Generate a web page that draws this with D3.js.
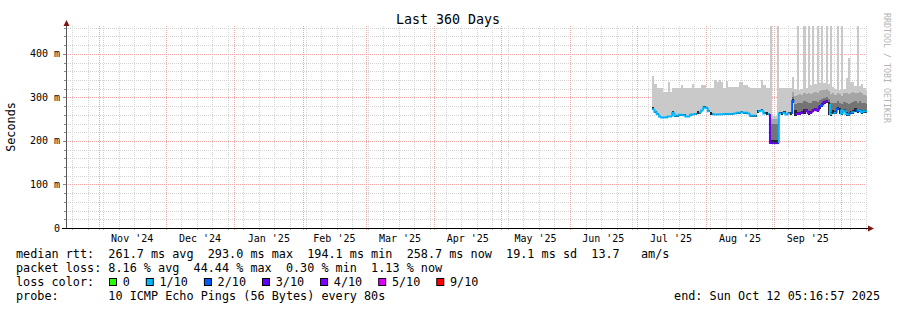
<!DOCTYPE html>
<html>
<head>
<meta charset="utf-8">
<script src="https://cdn.jsdelivr.net/npm/d3@7"></script>
<style>
  body { margin: 0; background: #fff; }
  svg text { font-family: "DejaVu Sans Mono", monospace; fill: #000; white-space: pre; }
</style>
</head>
<body>
<svg id="chart" width="897" height="310"></svg>
<script>
// ---- data ----
const endTime = new Date(Date.UTC(2025, 9, 12, 5, 16, 57));
const firstDay = new Date(Date.UTC(2025, 6, 8));

// daily median rtt (ms)
const median = [
  273, 267, 262, 256, 254, 254, 254, 256, 256, 265,
  258, 258, 260, 260, 259, 256, 256, 260, 261, 262,
  265, 265, 270, 277, 276, 268, 262, 262, 261, 261,
  261, 261, 262, 262, 262, 262, 262, 263, 265, 265,
  266, 265, 265, 263, 258, 258, 258, 266, 268, 270,
  263, 262, 262, 195, 195, 195, 195, 263, 262, 265,
  261, 263, 262, 292, 264, 262, 263, 265, 268, 270,
  264, 265, 270, 272, 270, 278, 282, 288, 291, 285,
  262, 266, 265, 274, 272, 263, 270, 262, 261, 265,
  266, 272, 268, 270, 266, 268, 268
];
// lost pings out of 10 (null: no median line drawn)
const loss = [
  1, 1, 1, 1, 1, 1, 1, 1, 1, 1,
  1, 1, 1, 1, 1, 1, 1, 1, 1, 1,
  null, 1, 1, 1, 1, 1, null, 1, 1, 1,
  1, 1, 1, 1, 1, 1, 1, 1, 1, 1,
  1, 1, 1, 1, 1, 1, 1, null, 1, 1,
  1, null, 1, 3, 3, 3, 3, 1, null, 1,
  1, 1, null, 2, null, 4, 4, 3, null, 4,
  4, 3, 4, 4, 4, 3, 2, 3, 4, null,
  1, null, 1, 2, null, 1, 1, 1, 1, 2,
  1, null, 2, 1, 1, 1, 1
];
// smoke: lowest ping
const smokeLow = [
  271, 265, 260, 254, 252, 252, 252, 254, 254, 263,
  256, 256, 258, 258, 257, 254, 254, 258, 259, 260,
  263, 263, 268, 275, 274, 266, 260, 260, 259, 259,
  259, 259, 260, 260, 260, 260, 260, 261, 263, 263,
  264, 263, 263, 261, 256, 256, 256, 264, 266, 268,
  261, 260, 260, 194, 194, 194, 194, 261, 260, 263,
  259, 261, 260, 288, 258, 259, 260, 262, 262, 266,
  260, 261, 266, 268, 266, 274, 278, 284, 287, 260,
  258, 262, 261, 270, 262, 259, 266, 258, 257, 261,
  262, 266, 264, 266, 262, 264, 264
];
// smoke: top of the near-black band around the median
const smokeDark = [
  277, 269, 264, 258, 256, 256, 256, 258, 258, 269,
  260, 260, 262, 262, 261, 258, 258, 262, 263, 264,
  269, 267, 272, 281, 278, 270, 266, 264, 263, 263,
  263, 263, 264, 264, 264, 264, 264, 265, 267, 267,
  268, 267, 267, 265, 260, 260, 260, 270, 272, 274,
  267, 266, 264, 203, 203, 203, 203, 267, 266, 269,
  263, 267, 266, 296, 270, 266, 267, 269, 274, 274,
  268, 269, 274, 276, 274, 282, 286, 292, 295, 290,
  266, 272, 269, 278, 276, 267, 274, 266, 265, 269,
  270, 276, 272, 274, 270, 272, 271
];
// smoke: top of the dark grey band
const smokeMid = [
  null, null, null, null, null, null, null, null, null, null,
  null, null, null, null, null, null, null, null, null, null,
  null, null, null, null, null, null, null, null, null, null,
  null, null, null, null, null, null, null, null, null, null,
  null, null, null, null, null, null, null, null, null, null,
  null, null, null, 238, 238, 238, 238, null, null, null,
  null, null, null, 300, 284, 286, 288, 286, 291, 290,
  288, 286, 291, 292, 290, 294, 296, 298, 301, 296,
  286, 288, 286, 292, 288, 284, 290, 288, 284, 288,
  290, 292, 288, 291, 288, 286, 284
];
// smoke: top of the medium grey band
const smokeGrey = [
  null, null, null, null, null, null, null, null, null, null,
  null, null, null, null, null, null, null, null, null, null,
  null, null, null, null, null, null, null, null, null, null,
  null, null, null, null, null, null, null, null, null, null,
  null, null, null, null, null, null, null, null, null, null,
  null, null, null, 251, 251, 251, 251, null, null, null,
  null, null, null, 312, 304, 305, 307, 305, 309, 307,
  309, 307, 311, 313, 311, 315, 317, 317, 319, 315,
  307, 309, 305, 311, 307, 304, 309, 311, 307, 311,
  313, 311, 309, 313, 309, 305, 303
];
// smoke: highest ping (spikes run off the top)
const smokeHigh = [
  349, 331, 322, 322, 322, 313, 313, 335, 313, 322,
  322, 322, 322, 329, 322, 322, 322, 322, 331, 322,
  322, 322, 329, 329, 322, 322, 322, 322, 340, 336,
  340, 335, 322, 338, 324, 324, 324, 324, 324, 336,
  336, 329, 329, 324, 322, 322, 322, 322, 322, 340,
  329, 322, 322, 500, 258, 258, 500, 322, 322, 322,
  322, 322, 322, 347, 320, 500, 318, 320, 500, 322,
  500, 328, 500, 330, 500, 333, 500, 333, 500, 330,
  500, 325, 320, 500, 318, 500, 320, 345, 391, 336,
  336, 327, 500, 327, 330, 322, 318
];

const yMajor = [0, 100, 200, 300, 400];
const yLabels = ['0', '100 m', '200 m', '300 m', '400 m'];
const lossLevels = [0, 1, 2, 3, 4, 5, 9];
const lossNames = ['0', '1/10', '2/10', '3/10', '4/10', '5/10', '9/10'];
const lossHex = ['#26ff00', '#00b8ff', '#0059ff', '#5e00ff', '#7e00ff', '#dd00ff', '#ff0000'];
const statLines = [
  'median rtt:  261.7 ms avg  293.0 ms max  194.1 ms min  258.7 ms now  19.1 ms sd  13.7   am/s',
  'packet loss: 8.16 % avg  44.44 % max  0.30 % min  1.13 % now',
  'loss color:',
  'probe:       10 ICMP Echo Pings (56 Bytes) every 80s'
];

// ---- chart ----
const svg = d3.select('#chart');
const plot = { left: 66, right: 866, top: 26, bottom: 228 };
const startTime = d3.utcDay.offset(endTime, -360);

const x = d3.scaleUtc().domain([startTime, endTime]).range([plot.left, plot.right]);
const y = d3.scaleLinear().domain([0, 464]).range([plot.bottom, plot.top]);
const lossColor = d3.scaleOrdinal().domain(lossLevels).range(lossHex);
const px = v => Math.round(v) + 0.5;

svg.append('rect').attr('width', 897).attr('height', 310).attr('fill', '#fff');

// grid
const grid = svg.append('g').attr('class', 'grid').attr('stroke-dasharray', '1,1')
  .attr('shape-rendering', 'crispEdges');
const yMinor = d3.range(20, 461, 20).filter(v => v % 100 !== 0);
const weeks = d3.utcSunday.range(startTime, endTime);
const months = d3.utcMonth.range(startTime, endTime);

grid.selectAll('line.hmin').data(yMinor).join('line').attr('class', 'hmin')
  .attr('x1', plot.left).attr('x2', plot.right)
  .attr('y1', d => px(y(d))).attr('y2', d => px(y(d)))
  .attr('stroke', '#d2d2d2');
grid.selectAll('line.vmin').data(weeks).join('line').attr('class', 'vmin')
  .attr('x1', d => px(x(d))).attr('x2', d => px(x(d)))
  .attr('y1', plot.top).attr('y2', plot.bottom)
  .attr('stroke', '#d2d2d2');
grid.selectAll('line.hmaj').data(yMajor.slice(1)).join('line').attr('class', 'hmaj')
  .attr('x1', plot.left).attr('x2', plot.right)
  .attr('y1', d => px(y(d))).attr('y2', d => px(y(d)))
  .attr('stroke', '#f1a6a6');
grid.selectAll('line.vmaj').data(months).join('line').attr('class', 'vmaj')
  .attr('x1', d => px(x(d))).attr('x2', d => px(x(d)))
  .attr('y1', plot.top).attr('y2', plot.bottom)
  .attr('stroke', '#f1a6a6');

// small tick marks outside the frame
const ticks = svg.append('g').attr('stroke', '#888').attr('shape-rendering', 'crispEdges');
ticks.selectAll('line.ty').data(yMinor.concat(yMajor.slice(1))).join('line')
  .attr('x1', d => d % 100 ? plot.left - 2 : plot.left - 3).attr('x2', plot.left)
  .attr('y1', d => px(y(d))).attr('y2', d => px(y(d)));
ticks.selectAll('line.tx').data(weeks.concat(months)).join('line')
  .attr('x1', d => px(x(d))).attr('x2', d => px(x(d)))
  .attr('y1', plot.bottom).attr('y2', plot.bottom + 2)
  .attr('stroke', d => months.includes(d) ? '#f1a6a6' : '#aaa');

// data
svg.append('clipPath').attr('id', 'clip').append('rect')
  .attr('x', plot.left).attr('y', plot.top)
  .attr('width', plot.right - plot.left + 1).attr('height', plot.bottom - plot.top);

const days = median.map((m, i) => {
  const t0 = d3.utcDay.offset(firstDay, i);
  const t1 = d3.utcDay.offset(firstDay, i + 1);
  const dk = smokeDark[i];
  const md = smokeMid[i] ?? dk;
  const gr = smokeGrey[i] ?? md;
  return {
    i, t0, t1, median: m, loss: loss[i],
    bands: [
      { from: smokeLow[i], to: dk, color: '#262626' },
      { from: dk, to: md, color: '#747474' },
      { from: md, to: gr, color: '#a5a5a5' },
      { from: gr, to: smokeHigh[i], color: '#c9c9c9' }
    ]
  };
});

const data = svg.append('g').attr('clip-path', 'url(#clip)');
const day = data.selectAll('g.day').data(days).join('g').attr('class', 'day');
day.selectAll('rect').data(d => d.bands.map(b => ({ ...b, t0: d.t0, t1: d.t1 })))
  .join('rect')
  .attr('shape-rendering', 'crispEdges')
  .attr('x', b => x(b.t0))
  .attr('width', b => x(b.t1) - x(b.t0))
  .attr('y', b => y(b.to))
  .attr('height', b => Math.max(0, y(b.from) - y(b.to)))
  .attr('fill', b => b.color);

data.selectAll('path.median').data(days.filter(d => d.loss != null)).join('path')
  .attr('class', 'median')
  .attr('fill', 'none')
  .attr('stroke-width', 2)
  .attr('stroke', d => lossColor(d.loss))
  .attr('d', d => {
    const prev = d.i > 0 ? median[d.i - 1] : d.median;
    return `M${x(d.t0)},${y(prev)}V${y(d.median)}H${x(d.t1)}`;
  });

// axes
svg.append('line').attr('x1', px(plot.left)).attr('x2', px(plot.left))
  .attr('y1', plot.bottom).attr('y2', plot.top - 3).attr('stroke', '#555');
svg.append('line').attr('x1', plot.left - 4).attr('x2', plot.right + 2)
  .attr('y1', px(plot.bottom)).attr('y2', px(plot.bottom)).attr('stroke', '#000');
svg.append('path').attr('fill', '#7f1414')
  .attr('d', `M${plot.left - 2.5},${plot.top}L${plot.left + 3.5},${plot.top}L${plot.left + 0.5},${plot.top - 6}Z`);
svg.append('path').attr('fill', '#7f1414')
  .attr('d', `M${plot.right + 2},${plot.bottom - 2.5}L${plot.right + 2},${plot.bottom + 3.5}L${plot.right + 8},${plot.bottom + 0.5}Z`);

// y labels
svg.selectAll('text.ylab').data(yMajor).join('text').attr('class', 'ylab')
  .attr('x', plot.left - 6).attr('y', d => y(d) + 3.5)
  .attr('text-anchor', 'end').attr('font-size', '10px')
  .text((d, i) => yLabels[i]);

// x labels at mid-month
const monthFmt = d3.utcFormat("%b '%y");
const labelMonths = d3.utcMonth.range(d3.utcMonth.floor(startTime), endTime)
  .map(m => ({ m, cx: (x(m) + x(d3.utcMonth.offset(m, 1))) / 2 }))
  .filter(d => d.cx > plot.left + 10 && d.cx < plot.right - 10);
svg.selectAll('text.xlab').data(labelMonths).join('text').attr('class', 'xlab')
  .attr('x', d => d.cx).attr('y', 241.5)
  .attr('text-anchor', 'middle').attr('font-size', '10px')
  .text(d => monthFmt(d.m));

// titles
svg.append('text').attr('x', 448).attr('y', 24).attr('text-anchor', 'middle')
  .attr('font-size', '13.3px').text('Last 360 Days');
svg.append('text').attr('transform', 'translate(14.5,127) rotate(-90)')
  .attr('text-anchor', 'middle').attr('font-size', '11.8px').text('Seconds');
svg.append('text').attr('transform', 'translate(884,13) rotate(90)')
  .attr('font-size', '8.3px').style('fill', '#b4b4b4').text('RRDTOOL / TOBI OETIKER');

// legend
svg.selectAll('text.stat').data(statLines).join('text').attr('class', 'stat')
  .attr('x', 16).attr('y', (d, i) => 257.5 + i * 14)
  .attr('font-size', '11.8px').text(d => d);

const charW = 7.1;
let lx = 109;
const lossItems = lossNames.map((name, i) => {
  const item = { name, level: lossLevels[i], x: lx };
  lx += 13.7 + name.length * charW + 16;
  return item;
});
const li = svg.selectAll('g.lossItem').data(lossItems).join('g').attr('class', 'lossItem');
li.append('rect').attr('x', d => d.x + 0.5).attr('y', 278.5).attr('width', 7).attr('height', 7)
  .attr('fill', d => lossColor(d.level)).attr('stroke', '#000');
li.append('text').attr('x', d => d.x + 13.7).attr('y', 285.5).attr('font-size', '11.8px')
  .text(d => d.name);

svg.append('text').attr('x', 880).attr('y', 299.5).attr('text-anchor', 'end')
  .attr('font-size', '11.8px')
  .text('end: ' + d3.utcFormat('%a %b %d %H:%M:%S %Y')(endTime));
</script>
</body>
</html>
